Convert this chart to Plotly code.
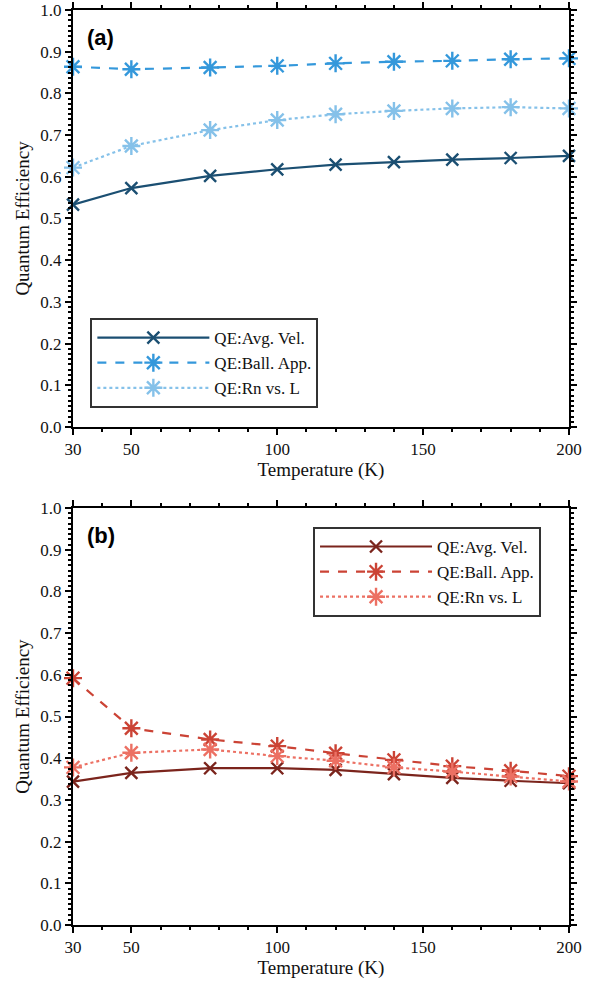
import plotly.graph_objects as go
from plotly.subplots import make_subplots

temps = [30, 50, 77, 100, 120, 140, 160, 180, 200]

a_avg_vel = [0.533, 0.573, 0.602, 0.618, 0.629, 0.635, 0.641, 0.645, 0.650]
a_ball_app = [0.864, 0.858, 0.862, 0.866, 0.872, 0.876, 0.878, 0.882, 0.884]
a_rn_vs_l = [0.622, 0.674, 0.712, 0.736, 0.750, 0.758, 0.764, 0.767, 0.764]

b_avg_vel = [0.344, 0.365, 0.376, 0.376, 0.372, 0.362, 0.353, 0.346, 0.340]
b_ball_app = [0.592, 0.472, 0.445, 0.429, 0.412, 0.396, 0.381, 0.370, 0.357]
b_rn_vs_l = [0.378, 0.413, 0.421, 0.405, 0.394, 0.378, 0.368, 0.356, 0.344]

names = ["QE:Avg. Vel.", "QE:Ball. App.", "QE:Rn vs. L"]
x_ticks = [30, 50, 100, 150, 200]
y_ticks = [0.0, 0.1, 0.2, 0.3, 0.4, 0.5, 0.6, 0.7, 0.8, 0.9, 1.0]

colors_a = ["#1b4f72", "#3498db", "#85c1e9"]
colors_b = ["#7b241c", "#cb4335", "#ec7063"]
dashes = ["solid", "dash", "dot"]
symbols = ["x-thin-open", "asterisk-open", "asterisk-open"]
sizes = [12, 15, 15]

SERIF = "Liberation Serif, Times New Roman, serif"

fig = make_subplots(rows=2, cols=1, vertical_spacing=0.0886)

for i, ys in enumerate([a_avg_vel, a_ball_app, a_rn_vs_l]):
    fig.add_trace(go.Scatter(
        x=temps, y=ys, name=names[i], mode="lines+markers",
        line=dict(color=colors_a[i], width=2.2, dash=dashes[i]),
        marker=dict(symbol=symbols[i], size=sizes[i],
                    line=dict(color=colors_a[i], width=2.4), color=colors_a[i]),
        cliponaxis=False, legend="legend",
    ), row=1, col=1)

for i, ys in enumerate([b_avg_vel, b_ball_app, b_rn_vs_l]):
    fig.add_trace(go.Scatter(
        x=temps, y=ys, name=names[i], mode="lines+markers",
        line=dict(color=colors_b[i], width=2.2, dash=dashes[i]),
        marker=dict(symbol=symbols[i], size=sizes[i],
                    line=dict(color=colors_b[i], width=2.4), color=colors_b[i]),
        cliponaxis=False, legend="legend2",
    ), row=2, col=1)

axis_common = dict(
    showline=True, linecolor="black", linewidth=2, mirror="ticks",
    ticks="outside", ticklen=6, tickwidth=2, tickcolor="black",
    showgrid=False, zeroline=False, automargin=False,
    tickfont=dict(family=SERIF, size=17, color="#111"),
)

for r in [1, 2]:
    fig.update_xaxes(
        range=[30, 200], tickmode="array", tickvals=x_ticks,
        ticktext=[str(v) for v in x_ticks],
        minor=dict(tickmode="linear", tick0=0, dtick=10, ticks="outside",
                   ticklen=3, tickwidth=2, tickcolor="black", showgrid=False),
        title=dict(text="Temperature (K)", font=dict(family=SERIF, size=19, color="#111"),
                   standoff=0),
        row=r, col=1, **axis_common,
    )
    fig.update_yaxes(
        range=[0, 1], tickmode="array", tickvals=y_ticks,
        ticktext=[f"{v:.1f}" for v in y_ticks],
        minor=dict(tickmode="linear", tick0=0, dtick=0.0125, ticks="outside",
                   ticklen=3, tickwidth=2, tickcolor="black", showgrid=False),
        title=dict(text="Quantum Efficiency", font=dict(family=SERIF, size=19, color="#111"),
                   standoff=6),
        row=r, col=1, **axis_common,
    )

fig.update_layout(
    width=600, height=984,
    margin=dict(l=73, r=31, t=10, b=59),
    plot_bgcolor="white", paper_bgcolor="white",
    showlegend=True,
    legend=dict(x=0.035, y=0.565, xanchor="left", yanchor="bottom",
                bgcolor="white", bordercolor="#333", borderwidth=2,
                font=dict(family=SERIF, size=17, color="#111"),
                itemwidth=112, tracegroupgap=0),
    legend2=dict(x=0.9436, y=0.435, xanchor="right", yanchor="top",
                 bgcolor="white", bordercolor="#333", borderwidth=2,
                 font=dict(family=SERIF, size=17, color="#111"),
                 itemwidth=112, tracegroupgap=0),
    annotations=[
        dict(text="<b>(a)</b>", xref="x domain", yref="y domain", x=0.025, y=0.933,
             xanchor="left", yanchor="middle", showarrow=False,
             font=dict(family="Liberation Sans, Arial, sans-serif", size=22, color="black")),
        dict(text="<b>(b)</b>", xref="x2 domain", yref="y2 domain", x=0.025, y=0.933,
             xanchor="left", yanchor="middle", showarrow=False,
             font=dict(family="Liberation Sans, Arial, sans-serif", size=22, color="black")),
    ],
)

fig.write_html("out.html", config={"displayModeBar": False},
               post_script="document.body.style.margin='0';")
